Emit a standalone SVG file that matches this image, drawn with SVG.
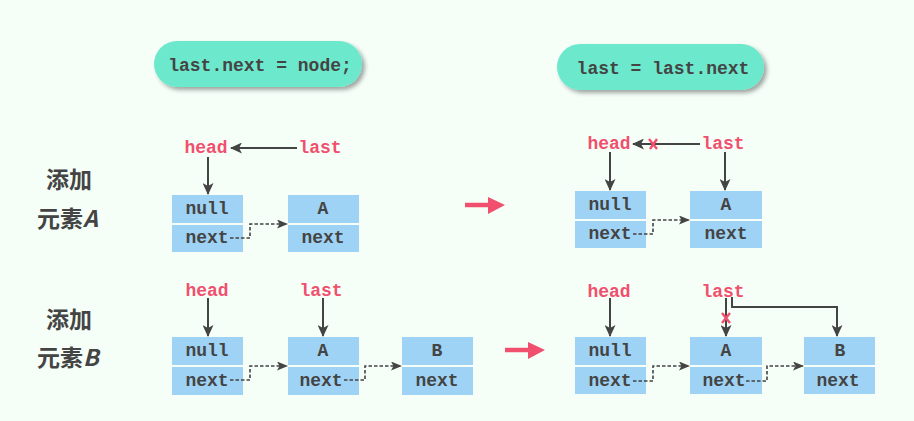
<svg xmlns="http://www.w3.org/2000/svg" width="914" height="421" viewBox="0 0 914 421">
<defs>
<style>
.bg{fill:#f5fff8}
.pill{fill:#6ce8cc}
.code{font-family:"Liberation Mono","DejaVu Sans Mono",monospace;font-weight:bold;font-size:18px;fill:#444;text-anchor:middle}
.ptr{font-family:"Liberation Mono","DejaVu Sans Mono",monospace;font-weight:bold;font-size:18px;fill:#f0506e;text-anchor:middle}
.cn{font-family:"AR PL UKai CN","KaiTi","Noto Sans CJK SC",sans-serif;font-size:23px;font-weight:bold;fill:#444}
.box{fill:#9fd3f5}
.ln{stroke:#444;stroke-width:2;fill:none}
.dash{stroke:#444;stroke-width:1.6;fill:none;stroke-dasharray:3.5 2}
.big{stroke:#f0506e;stroke-width:4.5;fill:none}
.x{stroke:#f0506e;stroke-width:2.4;fill:none}
</style>
<marker id="ah" viewBox="0 0 12 11" refX="11" refY="5.5" markerWidth="12" markerHeight="11" markerUnits="userSpaceOnUse" orient="auto">
<path d="M0,0 L12,5.5 L0,11 L3,5.5 z" fill="#444"/>
</marker>
<marker id="ahs" viewBox="0 0 11 9" refX="10" refY="4.5" markerWidth="11" markerHeight="9" markerUnits="userSpaceOnUse" orient="auto">
<path d="M0,0 L11,4.5 L0,9 L2.5,4.5 z" fill="#444"/>
</marker>
<filter id="sh" x="-10%" y="-20%" width="130%" height="160%">
<feDropShadow dx="3" dy="3" stdDeviation="2" flood-color="#000" flood-opacity="0.35"/>
</filter>
</defs>
<rect class="bg" x="0" y="0" width="914" height="421"/>

<g id="pill1">
<rect class="pill" x="154" y="41" width="208" height="46" rx="23" filter="url(#sh)"/>
<text class="code" x="260" y="71">last.next = node;</text>
</g>
<g id="pill2">
<rect class="pill" x="557" y="44" width="207" height="46" rx="23" filter="url(#sh)"/>
<text class="code" x="663" y="74">last = last.next</text>
</g>

<g id="labelA">
<text class="cn" x="46" y="188">添加</text>
<text class="cn" x="37" y="227">元素<tspan font-style="italic">A</tspan></text>
</g>
<g id="labelB">
<text class="cn" x="46" y="328">添加</text>
<text class="cn" x="37" y="366">元素<tspan font-style="italic">B</tspan></text>
</g>

<!-- Row 1 left -->
<g id="r1l-head"><text class="ptr" x="206" y="153">head</text></g>
<g id="r1l-last"><text class="ptr" x="320" y="153">last</text></g>
<g id="r1l-null">
<rect class="box" x="172" y="195" width="71" height="28"/>
<rect class="box" x="172" y="225" width="71" height="27"/>
<text class="code" x="207" y="214">null</text>
<text class="code" x="207" y="243">next</text>
</g>
<g id="r1l-A">
<rect class="box" x="288" y="195" width="71" height="28"/>
<rect class="box" x="288" y="225" width="71" height="27"/>
<text class="code" x="323" y="214">A</text>
<text class="code" x="323" y="243">next</text>
</g>

<!-- Row 1 right -->
<g id="r1r-head"><text class="ptr" x="609" y="149">head</text></g>
<g id="r1r-last"><text class="ptr" x="723" y="149">last</text></g>
<g id="r1r-null">
<rect class="box" x="575" y="191" width="71" height="28"/>
<rect class="box" x="575" y="221" width="71" height="27"/>
<text class="code" x="610" y="210">null</text>
<text class="code" x="610" y="239">next</text>
</g>
<g id="r1r-A">
<rect class="box" x="690" y="191" width="72" height="28"/>
<rect class="box" x="690" y="221" width="72" height="27"/>
<text class="code" x="726" y="210">A</text>
<text class="code" x="726" y="239">next</text>
</g>

<!-- Row 2 left -->
<g id="r2l-head"><text class="ptr" x="207" y="296">head</text></g>
<g id="r2l-last"><text class="ptr" x="321" y="296">last</text></g>
<g id="r2l-null">
<rect class="box" x="172" y="337" width="71" height="28"/>
<rect class="box" x="172" y="367" width="71" height="28"/>
<text class="code" x="207" y="356">null</text>
<text class="code" x="207" y="386">next</text>
</g>
<g id="r2l-A">
<rect class="box" x="288" y="337" width="71" height="28"/>
<rect class="box" x="288" y="367" width="71" height="28"/>
<text class="code" x="323" y="356">A</text>
<text class="code" x="321" y="386">next</text>
</g>
<g id="r2l-B">
<rect class="box" x="402" y="337" width="71" height="28"/>
<rect class="box" x="402" y="367" width="71" height="28"/>
<text class="code" x="437" y="356">B</text>
<text class="code" x="437" y="386">next</text>
</g>

<!-- Row 2 right -->
<g id="r2r-head"><text class="ptr" x="609" y="297">head</text></g>
<g id="r2r-last"><text class="ptr" x="723" y="297">last</text></g>
<g id="r2r-null">
<rect class="box" x="575" y="337" width="71" height="28"/>
<rect class="box" x="575" y="367" width="71" height="27"/>
<text class="code" x="610" y="356">null</text>
<text class="code" x="610" y="386">next</text>
</g>
<g id="r2r-A">
<rect class="box" x="690" y="337" width="72" height="28"/>
<rect class="box" x="690" y="367" width="72" height="27"/>
<text class="code" x="726" y="356">A</text>
<text class="code" x="724" y="386">next</text>
</g>
<g id="r2r-B">
<rect class="box" x="804" y="337" width="71" height="28"/>
<rect class="box" x="804" y="367" width="71" height="27"/>
<text class="code" x="840" y="356">B</text>
<text class="code" x="838" y="386">next</text>
</g>

<g id="connectors">
<!-- row1 left -->
<line class="ln" x1="297" y1="148" x2="231" y2="148" marker-end="url(#ah)"/>
<line class="ln" x1="208" y1="157" x2="208" y2="194" marker-end="url(#ah)"/>
<path class="dash" d="M230,238 H250 V224 H287" marker-end="url(#ahs)"/>
<!-- row1 right -->
<line class="ln" x1="700" y1="144" x2="633" y2="144" marker-end="url(#ah)"/>
<path class="x" d="M649,139 L657,149 M657,139 L650,149"/>
<line class="ln" x1="610" y1="152" x2="610" y2="190" marker-end="url(#ah)"/>
<line class="ln" x1="725" y1="152" x2="725" y2="190" marker-end="url(#ah)"/>
<path class="dash" d="M633,234 H653 V220 H689" marker-end="url(#ahs)"/>
<!-- row2 left -->
<line class="ln" x1="208" y1="298" x2="208" y2="336" marker-end="url(#ah)"/>
<line class="ln" x1="323" y1="298" x2="323" y2="336" marker-end="url(#ah)"/>
<path class="dash" d="M230,380 H250 V366 H287" marker-end="url(#ahs)"/>
<path class="dash" d="M344,380 H365 V366 H401" marker-end="url(#ahs)"/>
<!-- row2 right -->
<line class="ln" x1="610" y1="298" x2="610" y2="336" marker-end="url(#ah)"/>
<line class="ln" x1="726" y1="298" x2="726" y2="336" marker-end="url(#ah)"/>
<path class="x" d="M722,313 L730,323 M730,313 L722,323"/>
<path class="ln" d="M732,297 V307 H837 V336" marker-end="url(#ah)"/>
<path class="dash" d="M633,381 H653 V366 H689" marker-end="url(#ahs)"/>
<path class="dash" d="M746,381 H767 V366 H803" marker-end="url(#ahs)"/>
<!-- big arrows -->
<g id="bigA">
<line class="big" x1="465" y1="205" x2="492" y2="205"/>
<path d="M488,197 L505,205 L488,214 Z" fill="#f0506e"/>
</g>
<g id="bigB">
<line class="big" x1="505" y1="350" x2="532" y2="350"/>
<path d="M528,342 L545,350 L528,359 Z" fill="#f0506e"/>
</g>
</g>
</svg>
